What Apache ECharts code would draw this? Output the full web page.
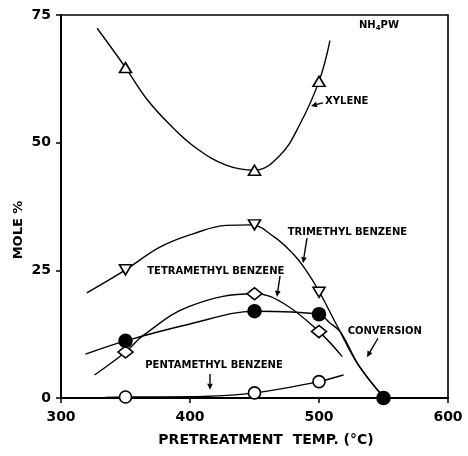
<!DOCTYPE html>
<html><head><meta charset="utf-8">
<script src="https://cdn.jsdelivr.net/npm/echarts/dist/echarts.min.js"></script>
<style>html,body{margin:0;padding:0;background:#fff}#c{width:468px;height:456px}</style>
</head><body><div id="c"></div>
<script>
// ---- data ----
const xTicks = [300, 400, 500, 600];
const yTicks = [0, 25, 50, 75];

const temps = [350, 450, 500];
const xyleneVals = [64.7, 44.6, 62.0];
const trimethylVals = [25.1, 33.9, 20.7];
const tetramethylVals = [9.0, 20.4, 13.0];
const pentamethylVals = [0.2, 1.0, 3.2];
const conversionTemps = [350, 450, 500, 550];
const conversionVals = [11.2, 17.0, 16.4, 0.0];

// drawn curves
const xyleneCurve = [[328,72.4],[350,64.7],[366,58.7],[384.5,53.5],[405,48.9],[428,45.6],[450,44.6],[470,47.6],[485,53.5],[500,62.0],[508.5,70.0]];
const trimethylCurve = [[320,20.6],[350,25.1],[377,29.6],[403,32.2],[428,33.8],[447,33.9],[465,31.6],[480,28.2],[490,25.0],[500,20.9],[513.7,14.3],[530.5,6.5],[550,0.2]];
const tetramethylCurve = [[326,4.5],[350,9.0],[364,12.3],[400,18.0],[450,20.4],[472,18.6],[500,13.0],[518,8.1]];
const conversionCurve = [[319,8.6],[350,11.2],[400,14.5],[450,17.0],[500,16.4],[508,14.8],[517,12.8],[530.5,6.5],[550,0.2]];
const pentamethylCurve = [[334,0.1],[350,0.2],[410,0.3],[450,1.0],[500,3.2],[519,4.5]];

// annotation anchors in data units: [label, x, y]
const labels = [
  ['TRIMETHYL BENZENE', 522, 32.5],
  ['TETRAMETHYL BENZENE', 420, 24.7],
  ['CONVERSION', 551, 13.1],
  ['PENTAMETHYL BENZENE', 418.6, 6.3]
];
const arrows = [
  [503.1, 57.8, 493.8, 57.2],
  [490.7, 31.3, 487.6, 26.4],
  [469.8, 23.9, 467.4, 19.8],
  [545.7, 11.7, 537.2, 8.0],
  [415.5, 4.7, 415.5, 1.6]
];

// ---- chart ----
const FONT = 'DejaVu Sans';
const chart = echarts.init(document.getElementById('c'));
const pair = (xs, ys) => xs.map((x, i) => [x, ys[i]]);
const curve = (d, smooth) => ({
  type: 'line', data: d, smooth: smooth, showSymbol: false, silent: true, z: 2,
  lineStyle: { color: '#000', width: 1.4 }
});
const marks = (d, symbol, size, fill, rot) => ({
  type: 'scatter', data: d, symbol: symbol, symbolSize: size, symbolRotate: rot || 0, z: 3,
  itemStyle: { color: fill, borderColor: '#000', borderWidth: 1.6, opacity: 1 }
});

chart.setOption({
  animation: false,
  grid: { left: 61, right: 20, top: 15, bottom: 58, show: true, borderColor: '#000', borderWidth: 1.6, backgroundColor: 'transparent' },
  xAxis: {
    type: 'value', min: 300, max: 600, interval: 100,
    axisLine: { lineStyle: { color: '#000', width: 2 } },
    axisTick: { show: true, length: 5, lineStyle: { color: '#000', width: 1.5 } },
    splitLine: { show: false },
    axisLabel: { color: '#000', fontFamily: FONT, fontWeight: 'bold', fontSize: 14, margin: 12,
      formatter: v => xTicks.includes(v) ? String(v) : '' }
  },
  yAxis: {
    type: 'value', min: 0, max: 75, interval: 25,
    axisLine: { lineStyle: { color: '#000', width: 2 } },
    axisTick: { show: true, length: 5, lineStyle: { color: '#000', width: 1.5 } },
    splitLine: { show: false },
    axisLabel: { color: '#000', fontFamily: FONT, fontWeight: 'bold', fontSize: 14, margin: 10,
      formatter: v => yTicks.includes(v) ? String(v) : '' }
  },
  series: [
    curve(xyleneCurve, 0.4),
    curve(trimethylCurve, 0.4),
    curve(tetramethylCurve, 0.4),
    curve(conversionCurve, 0.35),
    curve(pentamethylCurve, 0.2),
    marks(pair(temps, xyleneVals), 'triangle', [12, 10], '#fff'),
    marks(pair(temps, trimethylVals), 'triangle', [12, 10], '#fff', 180),
    marks(pair(temps, tetramethylVals), 'diamond', [15, 12], '#fff'),
    marks(pair(temps, pentamethylVals), 'circle', 12, '#fff'),
    marks(pair(conversionTemps, conversionVals), 'circle', 13, '#000')
  ]
});

const px = (x, y) => chart.convertToPixel({ xAxisIndex: 0, yAxisIndex: 0 }, [x, y]);
const g = [];
const txt = { fontFamily: FONT, fontWeight: 'bold', fill: '#000' };
labels.forEach(([t, x, y]) => {
  const p = px(x, y);
  g.push({ type: 'text', x: p[0], y: p[1], style: Object.assign({ text: t, fontSize: 10, align: 'center', verticalAlign: 'middle' }, txt) });
});
// XYLENE label (left aligned beside its arrow)
{
  const p = px(504.7, 58.1);
  g.push({ type: 'text', x: p[0], y: p[1], style: Object.assign({ text: 'XYLENE', fontSize: 10, align: 'left', verticalAlign: 'middle' }, txt) });
}
// NH4PW
{
  const p = px(546.5, 73.0);
  g.push({ type: 'text', x: p[0], y: p[1], style: Object.assign({
    text: '{a|NH}{s|4}{a|PW}', align: 'center', verticalAlign: 'middle',
    rich: { a: { fontFamily: FONT, fontWeight: 'bold', fontSize: 10 }, s: { fontFamily: FONT, fontWeight: 'bold', fontSize: 7, padding: [6, 0, 0, 0] } }
  }, txt) });
}
arrows.forEach(([x1, y1, x2, y2]) => {
  const a = px(x1, y1), b = px(x2, y2);
  const dx = b[0] - a[0], dy = b[1] - a[1], L = Math.hypot(dx, dy);
  const ux = dx / L, uy = dy / L, hl = 6, hw = 2.8;
  const base = [b[0] - ux * hl, b[1] - uy * hl];
  g.push({ type: 'line', shape: { x1: a[0], y1: a[1], x2: base[0], y2: base[1] }, style: { stroke: '#000', lineWidth: 1.4 } });
  g.push({ type: 'polygon', shape: { points: [b, [base[0] - uy * hw, base[1] + ux * hw], [base[0] + uy * hw, base[1] - ux * hw]] }, style: { fill: '#000' } });
});
// axis titles
g.push({ type: 'text', x: 266, y: 440, style: Object.assign({ text: 'PRETREATMENT  TEMP. (°C)', fontSize: 14, align: 'center', verticalAlign: 'middle' }, txt) });
g.push({ type: 'text', x: 19, y: 230, rotation: Math.PI / 2, style: Object.assign({ text: 'MOLE %', fontSize: 13, align: 'center', verticalAlign: 'middle' }, txt) });
chart.setOption({ graphic: g });
</script>
</body></html>
